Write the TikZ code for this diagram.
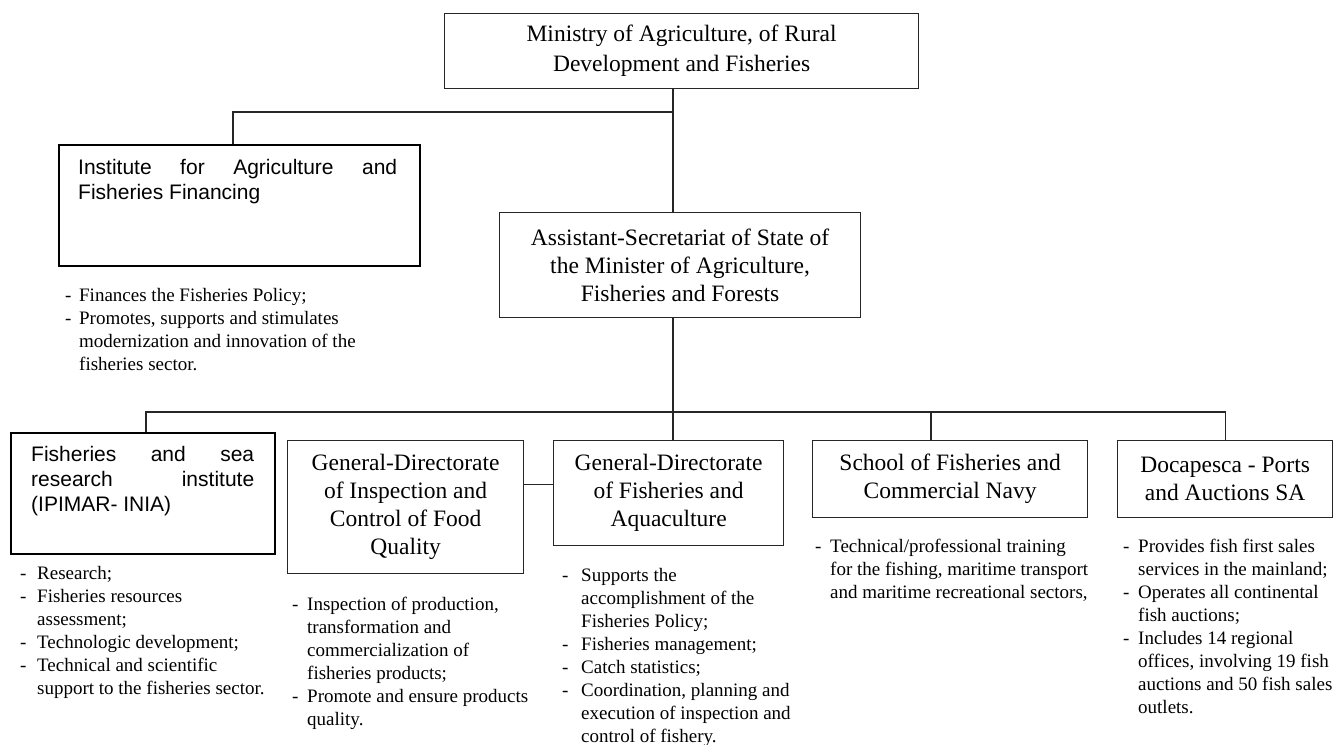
\documentclass[tikz,border=0pt]{standalone}
\usepackage{fontspec}
\setmainfont{Liberation Serif}
\newfontfamily\arialf{Liberation Sans}
\begin{document}
\begin{tikzpicture}[x=1pt,y=-1pt,
  box/.style={draw=black!85,line width=1.2pt,inner sep=0pt,align=center,anchor=north west,font=\fontsize{23.5}{28}\selectfont},
  tbox/.style={draw=black,line width=2pt,inner sep=0pt,anchor=north west},
  conn/.style={draw=black!85,line width=1.2pt},
  bul/.style={inner sep=0pt,anchor=base west,font=\fontsize{19}{23}\selectfont},
  stxt/.style={inner sep=0pt,anchor=base west,font=\arialf\fontsize{21}{25}\selectfont}]
\useasboundingbox (0,0) rectangle (1335,744);

% boxes
\node[box,minimum width=474pt,minimum height=75pt,font=\fontsize{23.5}{30}\selectfont] (min) at (444,13) {Ministry of Agriculture, of Rural\\Development and Fisheries};
\node[tbox,minimum width=361pt,minimum height=121pt] (iaff) at (58,144) {};
\node[stxt] (iafft) at (78,174.5) {\begin{tabular}[t]{@{}l@{}}\makebox[319pt][s]{Institute for Agriculture and}\\Fisheries Financing\end{tabular}};
\node[box,minimum width=361pt,minimum height=105pt] (asst) at (499,212) {Assistant-Secretariat of State of\\the Minister of Agriculture,\\Fisheries and Forests};
\node[tbox,minimum width=264pt,minimum height=121pt] (fish) at (10,432) {};
\node[stxt] (fisht) at (31,461.5) {\begin{tabular}[t]{@{}l@{}}\makebox[223pt][s]{Fisheries and sea}\\\makebox[223pt][s]{research institute}\\(IPIMAR- INIA)\end{tabular}};
\node[box,minimum width=236pt,minimum height=133pt] (insp) at (287,440) {General-Directorate\\of Inspection and\\Control of Food\\Quality};
\node[box,minimum width=230pt,minimum height=105pt] (gdfa) at (553,440) {General-Directorate\\of Fisheries and\\Aquaculture};
\node[box,minimum width=275pt,minimum height=77pt] (school) at (812,440) {School of Fisheries and\\Commercial Navy};
\node[box,minimum width=215pt,minimum height=77pt] (doca) at (1117,440) {Docapesca - Ports\\and Auctions SA};

% bullet lists
\node[bul] (finb) at (65,301) {\begin{tabular}[t]{@{}p{14pt}@{}l@{}}-&Finances the Fisheries Policy;\\-&Promotes, supports and stimulates\\&modernization and innovation of the\\&fisheries sector.\end{tabular}};
\node[bul] (fishb) at (20,579) {\begin{tabular}[t]{@{}p{17pt}@{}l@{}}-&Research;\\-&Fisheries resources\\&assessment;\\-&Technologic development;\\-&Technical and scientific\\&support to the fisheries sector.\end{tabular}};
\node[bul] (inspb) at (292,610) {\begin{tabular}[t]{@{}p{15pt}@{}l@{}}-&Inspection of production,\\&transformation and\\&commercialization of\\&fisheries products;\\-&Promote and ensure products\\&quality.\end{tabular}};
\node[bul] (gdfab) at (562,581) {\begin{tabular}[t]{@{}p{19pt}@{}l@{}}-&Supports the\\&accomplishment of the\\&Fisheries Policy;\\-&Fisheries management;\\-&Catch statistics;\\-&Coordination, planning and\\&execution of inspection and\\&control of fishery.\end{tabular}};
\node[bul] (schoolb) at (815,552) {\begin{tabular}[t]{@{}p{15pt}@{}l@{}}-&Technical/professional training\\&for the fishing, maritime transport\\&and maritime recreational sectors,\end{tabular}};
\node[bul] (docab) at (1123,552) {\begin{tabular}[t]{@{}p{15pt}@{}l@{}}-&Provides fish first sales\\&services in the mainland;\\-&Operates all continental\\&fish auctions;\\-&Includes 14 regional\\&offices, involving 19 fish\\&auctions and 50 fish sales\\&outlets.\end{tabular}};

% connectors
\coordinate (j1) at (673,112);
\coordinate (bus) at (673,412);
\coordinate (sc) at (931,412);
\draw[conn] (min.south -| j1) -- (asst.north -| j1);
\draw[conn] (j1) -| ([xshift=-6.5pt]iaff.north);
\draw[conn] (asst.south -| bus) -- (gdfa.north -| bus);
\draw[conn] ([xshift=3pt]fish.north) |- (bus);
\draw[conn] (bus) -| (doca.north);
\draw[conn] (sc) -- (school.north -| sc);
\draw[conn] ([yshift=22.5pt]insp.east) -- ([yshift=22.5pt]insp.east -| gdfa.west);
\end{tikzpicture}
\end{document}
